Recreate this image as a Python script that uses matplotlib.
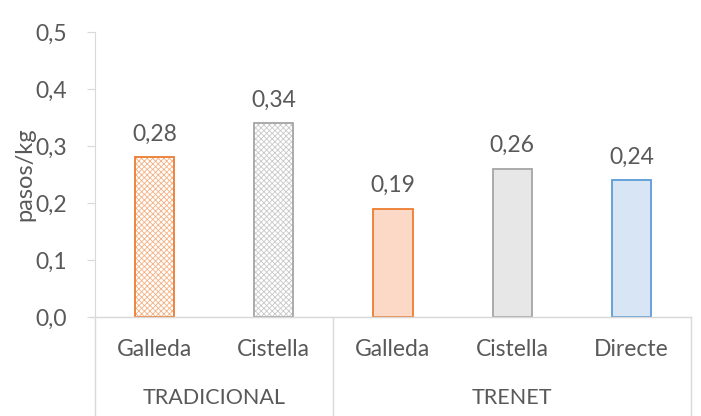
import matplotlib.pyplot as plt

plt.rcParams['font.family'] = ['Lato', 'DejaVu Sans']
plt.rcParams['hatch.linewidth'] = 0.6

# valores por sistema y recipiente
categorias = ['Galleda', 'Cistella', 'Galleda', 'Cistella', 'Directe']
grupos = ['TRADICIONAL', 'TRENET']
grupo_tamanos = [2, 3]
valores = [0.28, 0.34, 0.19, 0.26, 0.24]
etiquetas = ['0,28', '0,34', '0,19', '0,26', '0,24']
y_ticks = [0.0, 0.1, 0.2, 0.3, 0.4, 0.5]

color_borde = ['#ED7D31', '#A5A5A5', '#ED7D31', '#A5A5A5', '#5B9BD5']
color_hatch = ['#F4B183', '#C9C9C9', None, None, None]
color_relleno = ['white', 'white', '#FBD9C6', '#E7E7E7', '#D7E5F4']

TEXTO = '#595959'
LINEA = '#D9D9D9'
FS = 16.5

fig = plt.figure(figsize=(7.01, 4.16), dpi=100)
ax = fig.add_axes([95 / 701, 99 / 416, 596 / 701, 285 / 416])

x = list(range(len(categorias)))
ancho = 0.33
for i, v in enumerate(valores):
    if color_hatch[i]:
        ax.bar(x[i], v, ancho, color='white', edgecolor=color_hatch[i],
               hatch='xxxxxx', linewidth=0)
        ax.bar(x[i], v, ancho, fill=False, edgecolor=color_borde[i], linewidth=1.3)
    else:
        ax.bar(x[i], v, ancho, color=color_relleno[i], edgecolor=color_borde[i],
               linewidth=1.3)
    ax.text(x[i], v + 0.022, etiquetas[i], ha='center', va='bottom',
            fontsize=FS, color=TEXTO)

ax.set_xlim(-0.5, len(categorias) - 0.5)
ax.set_ylim(0, 0.5)
ax.set_yticks(y_ticks)
ax.set_yticklabels([f'{t:.1f}'.replace('.', ',') for t in y_ticks],
                   fontsize=FS, color=TEXTO)
ax.tick_params(axis='y', length=6, color=LINEA, pad=14)
ax.set_xticks([])
ax.set_ylabel('pasos/kg', fontsize=17, color=TEXTO, labelpad=0)

for lado in ['top', 'right']:
    ax.spines[lado].set_visible(False)
ax.spines['left'].set_color(LINEA)
ax.spines['bottom'].set_color(LINEA)

# eje de categorías en dos niveles
trans = ax.get_xaxis_transform()
for i, c in enumerate(categorias):
    ax.text(x[i], -0.115, c, transform=trans, ha='center', va='center',
            fontsize=FS, color=TEXTO)

inicio = -0.5
separadores = [inicio]
for g, n in zip(grupos, grupo_tamanos):
    centro = inicio + n / 2
    ax.text(centro, -0.285, g, transform=trans, ha='center', va='center',
            fontsize=15.5, color=TEXTO)
    inicio += n
    separadores.append(inicio)

for s in separadores:
    ax.plot([s, s], [0, -0.35], transform=trans, color=LINEA, lw=1,
            clip_on=False)
ax.plot([-0.53, len(categorias) - 0.5], [0, 0], transform=trans, color=LINEA,
        lw=1, clip_on=False)

fig.savefig('out.png', dpi=100)
